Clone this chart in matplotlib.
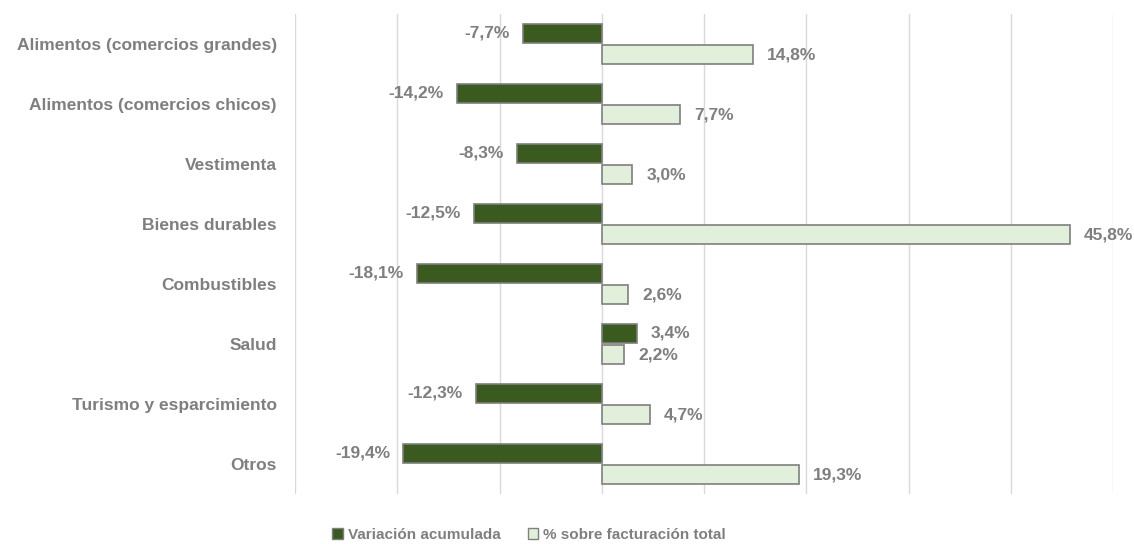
import numpy as np
import matplotlib.pyplot as plt
from matplotlib.patches import Patch

categorias = ['Alimentos (comercios grandes)', 'Alimentos (comercios chicos)', 'Vestimenta',
              'Bienes durables', 'Combustibles', 'Salud', 'Turismo y esparcimiento', 'Otros']
variacion = [-7.7, -14.2, -8.3, -12.5, -18.1, 3.4, -12.3, -19.4]
facturacion = [14.8, 7.7, 3.0, 45.8, 2.6, 2.2, 4.7, 19.3]
serie_nombres = ['Variación acumulada', '% sobre facturación total']

oscuro = '#3a5a20'
claro = '#e2efda'
borde = '#7f7f7f'
texto = '#7f7f7f'

plt.rcParams['font.family'] = ['Liberation Sans', 'DejaVu Sans']

fig = plt.figure(figsize=(11.34, 5.44), dpi=100)
ax = fig.add_axes([295/1134, 1-494/544, (1113-295)/1134, 480/544])

y = np.arange(len(categorias))
h = 0.32
ax.barh(y - h/2 - 0.015, variacion, height=h, color=oscuro, edgecolor=borde, linewidth=1.2, zorder=3)
ax.barh(y + h/2 + 0.015, facturacion, height=h, color=claro, edgecolor=borde, linewidth=1.2, zorder=3)

def etiqueta(v):
    return ('%.1f%%' % v).replace('.', ',')

for i in range(len(categorias)):
    for v, yy in ((variacion[i], y[i] - h/2 - 0.015), (facturacion[i], y[i] + h/2 + 0.015)):
        if v < 0:
            ax.annotate(etiqueta(v), (v, yy), xytext=(-9.5, 0), textcoords='offset points',
                        ha='right', va='center', fontsize=12.5, color=texto, fontweight='bold')
        else:
            ax.annotate(etiqueta(v), (v, yy), xytext=(10, 0), textcoords='offset points',
                        ha='left', va='center', fontsize=12.5, color=texto, fontweight='bold')

ax.set_xlim(-30, 50)
ax.set_ylim(len(categorias) - 0.5, -0.5)
ax.set_xticks(np.arange(-30, 51, 10))
ax.set_xticklabels([])
ax.grid(axis='x', color='#d9d9d9', linewidth=1, zorder=0)
ax.tick_params(axis='x', length=0)
ax.tick_params(axis='y', length=0, pad=13)
ax.set_yticks(y)
ax.set_yticklabels(categorias, fontsize=12.5, color=texto, fontweight='bold')
for s in ax.spines.values():
    s.set_visible(False)

handles = [Patch(facecolor=oscuro, edgecolor=borde), Patch(facecolor=claro, edgecolor=borde)]
leg = fig.legend(handles, serie_nombres, loc='center', bbox_to_anchor=(529/1134, 1-535/544),
                 ncol=2, frameon=False, fontsize=11, handlelength=0.7, handleheight=0.7,
                 handletextpad=0.3, columnspacing=1.8)
for t in leg.get_texts():
    t.set_color(texto)
    t.set_fontweight('bold')

fig.savefig('out.png', dpi=100, facecolor='white')
